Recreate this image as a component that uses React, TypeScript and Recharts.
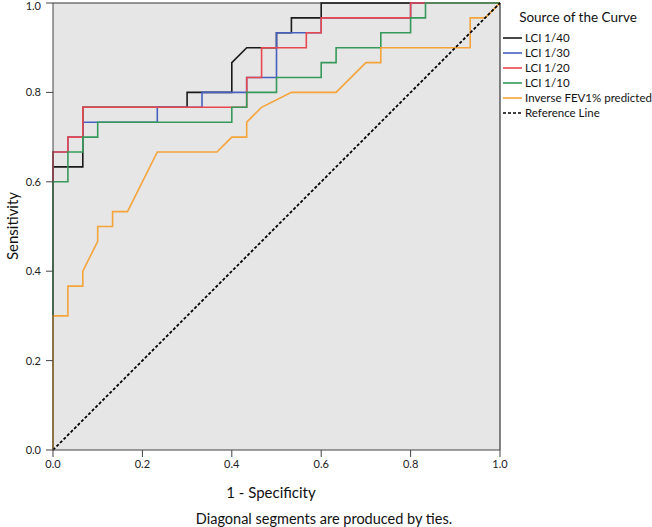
import { LineChart, Line, XAxis, YAxis, CartesianGrid, ReferenceLine } from "recharts";

// ROC points, as counts out of 30 negatives / 30 positives
const NEG = 30;
const POS = 30;

const lci40Fp = [0, 0, 2, 2, 9, 9, 12, 12, 13, 15, 15, 16, 16, 18, 18, 30];
const lci40Tp = [0, 19, 19, 23, 23, 24, 24, 26, 27, 27, 28, 28, 29, 29, 30, 30];

const lci30Fp = [0, 0, 1, 1, 2, 2, 7, 7, 10, 10, 13, 13, 15, 15, 18, 18, 24, 24, 30];
const lci30Tp = [0, 20, 20, 21, 21, 22, 22, 23, 23, 24, 24, 25, 25, 28, 28, 29, 29, 30, 30];

const lci20Fp = [0, 0, 1, 1, 2, 2, 13, 13, 14, 14, 17, 17, 18, 18, 24, 24, 30];
const lci20Tp = [0, 20, 20, 21, 21, 23, 23, 25, 25, 27, 27, 28, 28, 29, 29, 30, 30];

const lci10Fp = [0, 0, 1, 1, 2, 2, 3, 3, 12, 12, 13, 13, 15, 15, 18, 18, 19, 19, 22, 22, 24, 24, 25, 25, 30];
const lci10Tp = [0, 18, 18, 20, 20, 21, 21, 22, 22, 23, 23, 24, 24, 25, 25, 26, 26, 27, 27, 28, 28, 29, 29, 30, 30];

const fevFp = [0, 0, 1, 1, 2, 2, 3, 3, 4, 4, 5, 7, 11, 12, 13, 13, 14, 16, 19, 21, 22, 22, 28, 28, 29, 30];
const fevTp = [0, 9, 9, 11, 11, 12, 14, 15, 15, 16, 16, 20, 20, 21, 21, 22, 23, 24, 24, 26, 26, 27, 27, 29, 29, 30];

const ticks = [0, 0.2, 0.4, 0.6, 0.8, 1.0];

const toPoints = (fp: number[], tp: number[]) => fp.map((f, i) => ({ x: f / NEG, y: tp[i] / POS }));

const FONT = "Lato, 'Open Sans', sans-serif";

const series = [
  { name: "LCI 1/40", color: "#1a1a1a", data: toPoints(lci40Fp, lci40Tp) },
  { name: "LCI 1/30", color: "#4660c0", data: toPoints(lci30Fp, lci30Tp) },
  { name: "LCI 1/20", color: "#e8474f", data: toPoints(lci20Fp, lci20Tp) },
  { name: "LCI 1/10", color: "#35995a", data: toPoints(lci10Fp, lci10Tp) },
  { name: "Inverse FEV1% predicted", color: "#f5a43a", data: toPoints(fevFp, fevTp) },
];

const legendItems = [
  ...series.map((s) => ({ name: s.name, color: s.color, dash: undefined as string | undefined })),
  { name: "Reference Line", color: "#000", dash: "3 2" },
];

function CurveLegend() {
  return (
    <div style={{ position: "absolute", left: 500, top: 0, width: 152, fontFamily: FONT, color: "#111" }}>
      <div style={{ fontSize: 13.5, paddingLeft: 4, textAlign: "center", height: 30, lineHeight: "34px", whiteSpace: "nowrap" }}>
        Source of the Curve
      </div>
      {legendItems.map((s) => (
        <div key={s.name} style={{ display: "flex", alignItems: "center", height: 15, fontSize: 11.5, whiteSpace: "nowrap" }}>
          <svg width={22} height={4} style={{ marginLeft: 3, flex: "none" }}>
            <line x1={0} y1={2} x2={19} y2={2} stroke={s.color} strokeWidth={1.6} strokeDasharray={s.dash} />
          </svg>
          <span>{s.name}</span>
        </div>
      ))}
    </div>
  );
}

export default function App() {
  return (
    <div style={{ position: "absolute", left: 0, top: 0, width: 652, height: 527, background: "#fff" }}>
      <LineChart width={652} height={527} margin={{ top: 3, right: 152, left: 0, bottom: 0 }}>
        <CartesianGrid fill="#e6e6e6" horizontal={false} vertical={false} />
        <XAxis
          type="number"
          dataKey="x"
          domain={[0, 1]}
          ticks={ticks}
          tickFormatter={(v: number) => v.toFixed(1)}
          height={77}
          tickSize={7}
          tickMargin={3}
          stroke="#444"
          tick={{ fill: "#222", fontSize: 11, fontFamily: FONT }}
        />
        <YAxis
          type="number"
          dataKey="y"
          domain={[0, 1]}
          ticks={ticks}
          tickFormatter={(v: number) => v.toFixed(1)}
          width={53}
          tickSize={7}
          tickMargin={5}
          stroke="#444"
          tick={{ fill: "#222", fontSize: 11, fontFamily: FONT }}
        />
        <ReferenceLine x={1} stroke="#333" strokeWidth={1.2} />
        <ReferenceLine y={1} stroke="#333" strokeWidth={1.2} />
        {series.map((s) => (
          <Line
            key={s.name}
            data={s.data}
            dataKey="y"
            name={s.name}
            type="linear"
            stroke={s.color}
            strokeWidth={1.6}
            dot={false}
            activeDot={false}
            isAnimationActive={false}
          />
        ))}
        <ReferenceLine
          segment={[{ x: 0, y: 0 }, { x: 1, y: 1 }]}
          stroke="#000"
          strokeWidth={1.8}
          strokeDasharray="3 2"
        />
      </LineChart>
      <CurveLegend />
      <div
        style={{
          position: "absolute",
          left: 12,
          top: 226,
          transform: "translate(-50%, -50%) rotate(-90deg)",
          fontFamily: FONT,
          fontSize: 15,
          color: "#111",
          whiteSpace: "nowrap",
        }}
      >
        Sensitivity
      </div>
      <div
        style={{
          position: "absolute",
          left: 271,
          top: 492,
          transform: "translate(-50%, -50%)",
          fontFamily: FONT,
          fontSize: 15,
          color: "#111",
          whiteSpace: "nowrap",
        }}
      >
        1 - Specificity
      </div>
      <div
        style={{
          position: "absolute",
          left: 324,
          top: 518,
          transform: "translate(-50%, -50%)",
          fontFamily: FONT,
          fontSize: 14.5,
          color: "#111",
          whiteSpace: "nowrap",
        }}
      >
        Diagonal segments are produced by ties.
      </div>
    </div>
  );
}
